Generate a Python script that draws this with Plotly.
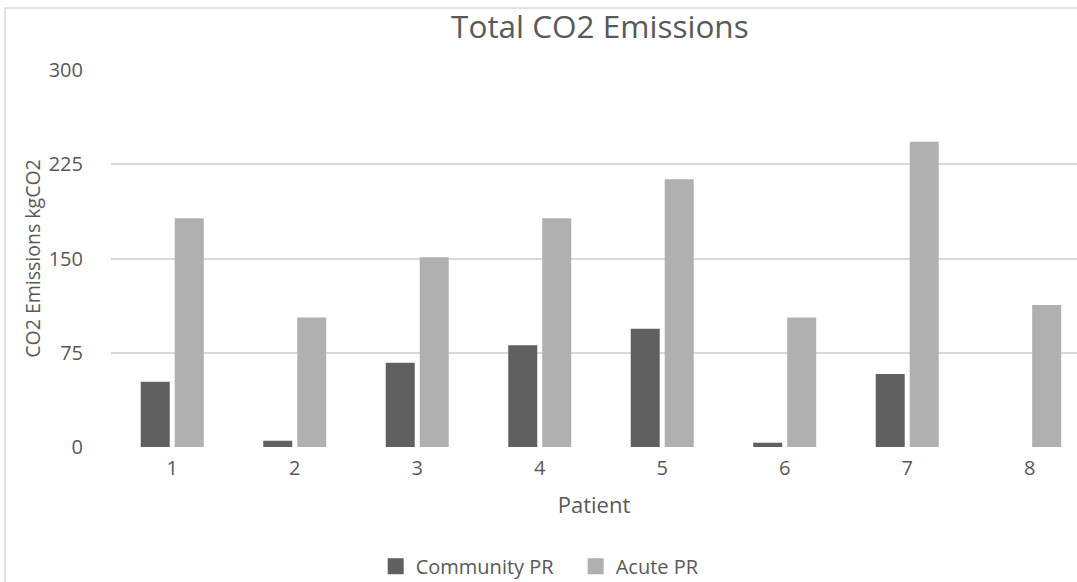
import plotly.graph_objects as go

patients = [1, 2, 3, 4, 5, 6, 7, 8]
community_pr = [52, 5, 67, 81, 94, 3.4, 58, 0]
acute_pr = [182, 103, 151, 182, 213, 103, 243, 113]
y_ticks = [0, 75, 150, 225, 300]

FONT = "Open Sans, Liberation Sans, sans-serif"
TXT = "#595959"
C_COMM = "#606060"
C_ACUTE = "#b0b0b0"

fig = go.Figure()
fig.add_trace(go.Bar(x=patients, y=community_pr, name="Community PR",
                     marker=dict(color=C_COMM, line=dict(width=0)), showlegend=False))
fig.add_trace(go.Bar(x=patients, y=acute_pr, name="Acute PR",
                     marker=dict(color=C_ACUTE, line=dict(width=0)), showlegend=False))
# legend entries (square swatches)
for name, col in [("Community PR", C_COMM), ("Acute PR", C_ACUTE)]:
    fig.add_trace(go.Scatter(x=[None], y=[None], mode="markers", name=name,
                             marker=dict(symbol="square", size=17, color=col)))

fig.update_layout(
    width=1077, height=582,
    margin=dict(l=111, r=0, t=70, b=135, autoexpand=False),
    paper_bgcolor="white", plot_bgcolor="white",
    barmode="group", bargap=0.445, bargroupgap=0.147,
    font=dict(family=FONT, color=TXT, size=20),
    title=dict(text="Total CO2 Emissions", x=0.557, xanchor="center",
               y=0.953, yanchor="middle",
               font=dict(size=31.5, color=TXT, family=FONT)),
    xaxis=dict(range=[0.5, 8.386], tickmode="array", tickvals=patients,
               ticktext=[str(p) for p in patients], showgrid=False,
               zeroline=False, showline=False, ticks="",
               ticklabelstandoff=7,
               title=dict(text="Patient", standoff=17, font=dict(size=22)),
               tickfont=dict(size=20)),
    yaxis=dict(range=[0, 300], tickmode="array", tickvals=y_ticks,
               showgrid=True, gridcolor="#d9d9d9", gridwidth=1.5,
               zeroline=False, showline=False, ticks="",
               ticklabelstandoff=27,
               title=dict(text="CO2 Emissions kgCO2", standoff=2, font=dict(size=19.5)),
               tickfont=dict(size=20)),
    legend=dict(orientation="h", x=0.274, xanchor="left", y=-0.316, yanchor="middle",
                font=dict(size=20), itemwidth=30, traceorder="normal",
                entrywidth=155, entrywidthmode="pixels"),
    shapes=[dict(type="rect", xref="paper", yref="paper",
                 x0=-0.1097, x1=1.2, y0=-0.5, y1=1.1643,
                 line=dict(color="#d9d9d9", width=1.5), fillcolor="rgba(0,0,0,0)",
                 layer="below")],
)
fig.write_html("out.html", config={"displayModeBar": False},
               post_script="document.body.style.margin='0';document.body.style.overflow='hidden';")
